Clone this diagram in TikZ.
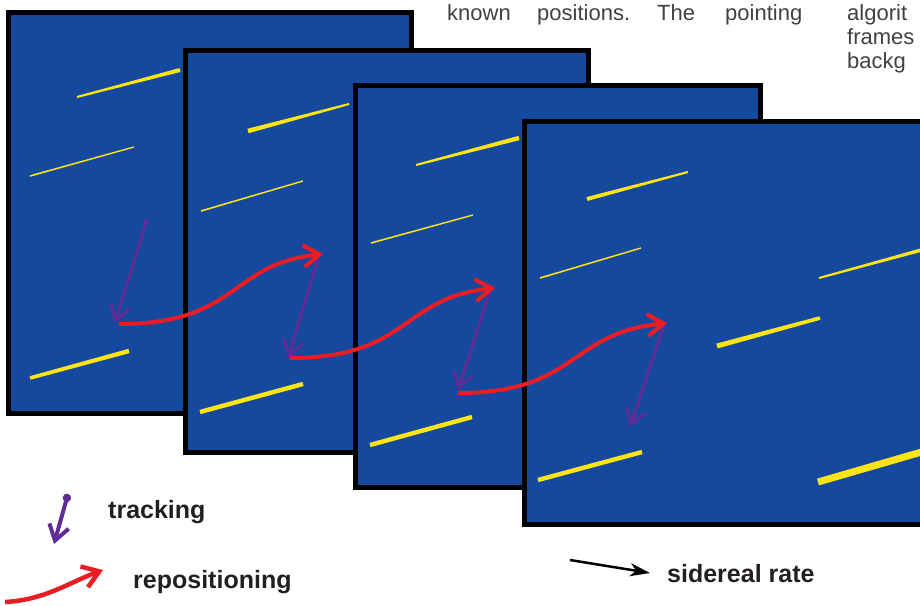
\documentclass[tikz,border=0pt]{standalone}
\usepackage{fontspec}
\setmainfont{Liberation Sans}
\usetikzlibrary{arrows.meta,calc}
\definecolor{skyblue}{RGB}{20,73,157}
\definecolor{trailyellow}{RGB}{255,228,20}
\definecolor{trackpurple}{RGB}{96,44,150}
\definecolor{reposred}{RGB}{236,28,36}
\definecolor{labelgray}{RGB}{35,31,32}
\definecolor{bodygray}{RGB}{65,64,66}
\newcommand{\startrail}[4]{\fill[trailyellow] ($(#1)!#3!90:(#2)$) -- ($(#1)!#3!-90:(#2)$) -- ($(#2)!#4!90:(#1)$) -- ($(#2)!#4!-90:(#1)$) -- cycle;}
\tikzset{
  skyframe/.style={draw=black, line width=5pt, fill=skyblue},
  trackarrow/.style={draw=trackpurple, line width=3pt, {Circle[length=5pt]}-{Straight Barb[length=15pt,width=20pt]}},
  reposarrow/.style={draw=reposred, line width=4pt, -{Straight Barb[length=16pt,width=22pt]}},
  legendlabel/.style={font=\bfseries\fontsize{25}{30}\selectfont, text=labelgray, anchor=base west, inner sep=0pt},
  bodytext/.style={font=\fontsize{22}{26}\selectfont, text=bodygray, anchor=base west, inner sep=0pt}
}
\begin{document}
\begin{tikzpicture}[x=1pt,y=-1pt]
\useasboundingbox (0,0) rectangle (920,605);
\clip (0,0) rectangle (920,605);
% body text fragments
\node[bodytext] (w1) at (447,20) {known};
\node[bodytext] (w2) at (537,20) {positions.};
\node[bodytext] (w3) at (657,20) {The};
\node[bodytext] (w4) at (725,20) {pointing};
\node[bodytext] (c1) at (847,20) {algorit};
\node[bodytext] (c2) at (847,44) {frames};
\node[bodytext] (c3) at (847,68) {backg};
% frame 1
\draw[skyframe] (8.5,12.5) rectangle (411.5,413.5);
\startrail{77,97}{180,70}{1pt}{2pt}
\startrail{30,176}{134,147}{0.8pt}{0.7pt}
\startrail{30,378}{129,351}{1.8pt}{2.2pt}
% frame 2
\draw[skyframe] (185.5,50.5) rectangle (588.5,452.5);
\startrail{248,131}{349,104}{2.3pt}{1pt}
\startrail{201,211}{303,181}{0.8pt}{0.7pt}
\startrail{200,412}{303,384}{2.2pt}{2.2pt}
% frame 3
\draw[skyframe] (355.5,85.5) rectangle (760.5,487.5);
\startrail{416,165}{519,138}{1pt}{2.2pt}
\startrail{371,243}{473,215}{0.8pt}{0.7pt}
\startrail{370,445}{472,417}{2.2pt}{2.2pt}
% frame 4
\draw[skyframe] (524.5,121.5) rectangle (927.5,524.5);
\startrail{587,199}{688,172}{2pt}{1pt}
\startrail{540,278}{641,248}{0.8pt}{0.7pt}
\startrail{819,278}{925,249}{1pt}{1.8pt}
\startrail{717,346}{820,318}{2.5pt}{1.8pt}
\startrail{818,482}{925,451}{3.5pt}{3.5pt}
\startrail{538,480}{642,452}{2.2pt}{2.2pt}
% tracking arrows
\coordinate (t1s) at (147,219); \coordinate (t1e) at (115,323);
\coordinate (t2s) at (320,252); \coordinate (t2e) at (288,358);
\coordinate (t3s) at (492,285); \coordinate (t3e) at (458,390);
\coordinate (t4s) at (665,322); \coordinate (t4e) at (630,427);
\draw[trackarrow] (t1s) -- (t1e);
\draw[trackarrow] (t2s) -- (t2e);
\draw[trackarrow] (t3s) -- (t3e);
\draw[trackarrow] (t4s) -- (t4e);
% repositioning arrows
\coordinate (r1s) at (119,324); \coordinate (r1e) at (323,254);
\coordinate (r2s) at (290,358); \coordinate (r2e) at (495,288);
\coordinate (r3s) at (458,393); \coordinate (r3e) at (667,323);
\draw[reposarrow] (r1s) .. controls (239,324) and (229,264) .. (r1e);
\draw[reposarrow] (r2s) .. controls (410,358) and (400,298) .. (r2e);
\draw[reposarrow] (r3s) .. controls (578,393) and (568,333) .. (r3e);
% legend
\coordinate (lts) at (68,494); \coordinate (lte) at (54,544);
\draw[trackarrow, line width=4pt, {Circle[length=8pt]}-{Straight Barb[length=15pt,width=20pt]}] (lts) -- (lte);
\node[legendlabel] (ltrack) at (108,518) {tracking};
\coordinate (lrs) at (5,602); \coordinate (lre) at (103,570);
\draw[reposarrow, line width=4.5pt] (lrs) .. controls (45,600) and (70,582) .. (lre);
\node[legendlabel] (lrepos) at (133,588) {repositioning};
\coordinate (lss) at (570,560); \coordinate (lse) at (650,573);
\draw[black, line width=2.5pt, -{Stealth[length=20pt,width=13pt,inset=6pt]}] (lss) -- (lse);
\node[legendlabel] (lsid) at (667,582) {sidereal rate};
\end{tikzpicture}
\end{document}
